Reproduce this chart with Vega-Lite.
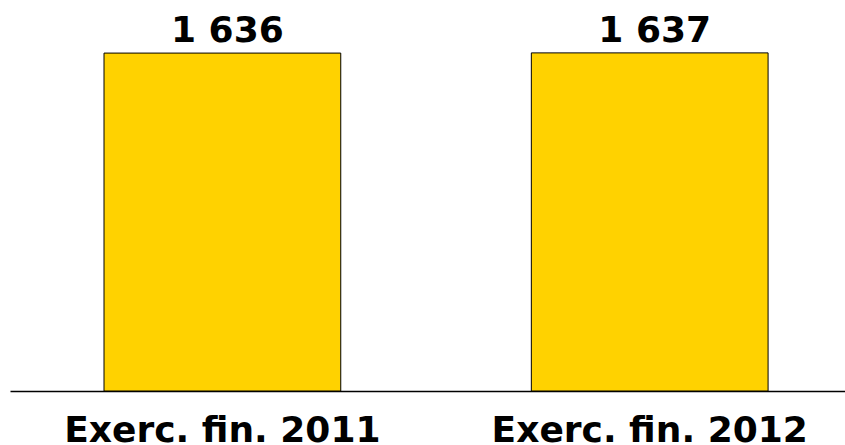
{
  "$schema": "https://vega.github.io/schema/vega-lite/v6.json",
  "autosize": "none",
  "width": 835,
  "height": 391,
  "padding": {"left": 10, "top": 0, "right": 0, "bottom": 54},
  "background": "white",
  "config": {"view": {"stroke": null}, "font": "DejaVu Sans"},
  "data": {"values": [
    {"period": "Exerc. fin. 2011", "value": 1636, "label": "1 636"},
    {"period": "Exerc. fin. 2012", "value": 1637, "label": "1 637"}
  ]},
  "encoding": {
    "x": {"field": "period", "type": "nominal", "sort": null,
      "scale": {"paddingInner": 0.446, "paddingOuter": 0.2, "align": 0.55},
      "axis": {"title": null, "labelAngle": 0, "ticks": false, "domainColor": "black", "domainWidth": 1.5,
        "labelFont": "DejaVu Sans", "labelFontWeight": "bold", "labelFontSize": 36, "labelColor": "black",
        "labelBaseline": "alphabetic", "labelPadding": 50, "labelLimit": 0, "labelOverlap": false}},
    "y": {"field": "value", "type": "quantitative", "scale": {"domain": [0, 1893]}, "axis": null}
  },
  "layer": [
    {"mark": {"type": "bar", "color": "#FFD200", "stroke": "black", "strokeWidth": 1}},
    {"mark": {"type": "text", "font": "DejaVu Sans", "fontWeight": "bold", "fontSize": 36, "baseline": "alphabetic", "dy": -11, "dx": 5, "color": "black"},
     "encoding": {"text": {"field": "label"}}}
  ]
}
